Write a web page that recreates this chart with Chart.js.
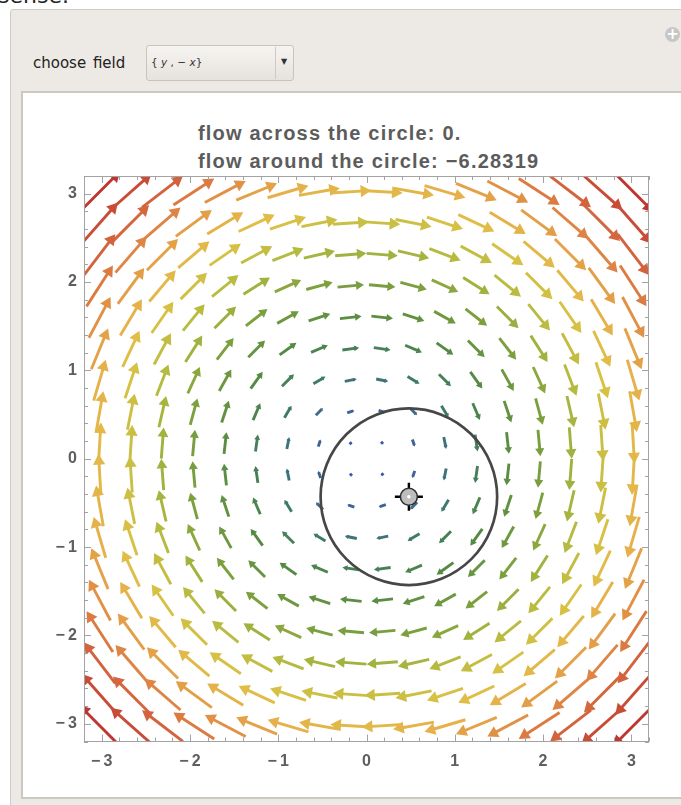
<!DOCTYPE html>
<html>
<head>
<meta charset="utf-8">
<script src="https://cdn.jsdelivr.net/npm/chart.js@4"></script>
<style>
  body { margin: 0; width: 681px; height: 805px; overflow: hidden; background: #fff; position: relative; font-family: 'DejaVu Sans', sans-serif; }
  #above { position: absolute; left: -2px; top: -17px; font-size: 22px; color: #222; }
  #panel { position: absolute; left: 10px; top: 9px; width: 720px; height: 830px; background: #edeae6; border: 1px solid #cfcbc6; border-radius: 3px; }
  #plus { position: absolute; left: 665px; top: 27px; width: 15px; height: 15px; border-radius: 50%; background: #c6c6c6; color: #fff; font: bold 15px/15px 'DejaVu Sans', sans-serif; text-align: center; }
  #chooseLabel { position: absolute; left: 33px; top: 54px; font-size: 15px; color: #222; word-spacing: 2px; }
  #drop { position: absolute; left: 146px; top: 45px; width: 146px; height: 34px; border: 1px solid #c7c3bd; border-radius: 3px; background: linear-gradient(#f6f4f1, #e6e3de); }
  #drop .sep { position: absolute; left: 128px; top: 1px; bottom: 1px; border-left: 1px solid #cdc9c3; }
  #drop .arrow { position: absolute; left: 134px; top: 11px; font-size: 8px; color: #333; }
  #drop .val { position: absolute; left: 4px; top: 10px; font: 10.5px 'DejaVu Sans', sans-serif; color: #333; }
  #drop .val i { font-style: italic; }
  #pane { position: absolute; left: 21px; top: 91px; width: 720px; height: 704px; background: #fff; border: 2px solid #cbc7c1; }
  #title { position: absolute; left: 198px; top: 119px; font: bold 20px/28px 'Liberation Sans', Arial, sans-serif; letter-spacing: 1.2px; color: #5c5c5c; white-space: pre; }
  canvas { position: absolute; left: 0; top: 0; }
</style>
</head>
<body>
<div id="above">sense.</div>
<div id="panel"></div>
<div id="plus">+</div>
<div id="chooseLabel">choose field</div>
<div id="drop"><span class="val">{ <i>y</i> , &minus; <i>x</i>}</span><span class="sep"></span><span class="arrow">&#9660;</span></div>
<div id="pane"></div>
<div id="title"></div>
<canvas id="graph" width="681" height="805"></canvas>
<script>
// arrow sample points (cell centres of an 18 x 18 grid on [-3.2, 3.2])
const gridX = [-3.022, -2.667, -2.311, -1.956, -1.6, -1.244, -0.889, -0.533, -0.178,
               0.178, 0.533, 0.889, 1.244, 1.6, 1.956, 2.311, 2.667, 3.022];
const gridY = [-3.022, -2.667, -2.311, -1.956, -1.6, -1.244, -0.889, -0.533, -0.178,
               0.178, 0.533, 0.889, 1.244, 1.6, 1.956, 2.311, 2.667, 3.022];
const xTicks = [-3, -2, -1, 0, 1, 2, 3];
const yTicks = [-3, -2, -1, 0, 1, 2, 3];
const plotRange = [-3.2, 3.2];

// chosen field {y, -x}
const field = (x, y) => [y, -x];

// circle and its locator
const circleCenter = [0.48, -0.43];
const circleRadius = 1;

const flowAcross = '0.';
const flowAround = '\u22126.28319';

// colour by magnitude, blue -> green -> yellow -> orange -> red
const colorT = [0, 0.12, 0.2, 0.3, 0.45, 0.55, 0.65, 0.72, 0.8, 0.9, 1];
const colorHex = ['#3b58a8', '#3f6a8c', '#3e7a6a', '#4f8744', '#80a23e', '#b3bb40',
                  '#dcc245', '#e6b04a', '#e08b45', '#d05b3b', '#bf3530'];

const style = {
  frame: '#a3a3a3',
  tickText: '#5e5e5e',
  circle: '#474747',
  font: "'Liberation Sans', Arial, sans-serif"
};

document.getElementById('title').textContent =
  'flow across the circle: ' + flowAcross + '\nflow around the circle: ' + flowAround;

const hexRgb = h => [1, 3, 5].map(i => parseInt(h.substr(i, 2), 16));
const colorAt = t => {
  let i = 0;
  while (i < colorT.length - 2 && t > colorT[i + 1]) i++;
  const f = Math.min(1, Math.max(0, (t - colorT[i]) / (colorT[i + 1] - colorT[i])));
  const a = hexRgb(colorHex[i]), b = hexRgb(colorHex[i + 1]);
  return 'rgb(' + a.map((v, k) => Math.round(v + (b[k] - v) * f)).join(',') + ')';
};

// build arrows
const arrowScale = 0.153;   // data units of length per unit of magnitude
const shaftData = [], shaftColors = [];
const headData = [], headColors = [], headRot = [], headSize = [];
let mags = [];
gridX.forEach(x => gridY.forEach(y => {
  const v = field(x, y);
  mags.push(Math.hypot(v[0], v[1]));
}));
const mMin = Math.min(...mags), mMax = Math.max(...mags);

gridX.forEach(x => gridY.forEach(y => {
  const [u, w] = field(x, y);
  const m = Math.hypot(u, w);
  const len = arrowScale * m;
  const dx = u / m, dy = w / m;
  const col = colorAt((m - mMin) / (mMax - mMin));
  const h = Math.min(0.3 * len, 0.12);        // head length
  const r = h / 1.5;                          // triangle circumradius
  const tip = [x + dx * len / 2, y + dy * len / 2];
  const tail = [x - dx * len / 2, y - dy * len / 2];
  shaftData.push({x: tail[0], y: tail[1]}, {x: tip[0] - dx * 0.6 * h, y: tip[1] - dy * 0.6 * h}, {x: x, y: null});
  shaftColors.push(col);
  headData.push({x: tip[0] - dx * r, y: tip[1] - dy * r});
  headColors.push(col);
  headRot.push(Math.atan2(u, w) * 180 / Math.PI);
  headSize.push(r);
}));

const pxLen = (chart, d) => chart.scales.x.getPixelForValue(d) - chart.scales.x.getPixelForValue(0);

const tickLabel = v => v < 0 ? '\u2212\u2009' + Math.abs(v) : String(v);

// frame with inward major/minor ticks on all four sides
const framePlugin = {
  id: 'frame',
  afterDatasetsDraw(chart) {
    const {ctx, chartArea: a, scales: {x, y}} = chart;
    ctx.save();
    ctx.strokeStyle = style.frame;
    ctx.lineWidth = 1;
    ctx.strokeRect(Math.round(a.left) + 0.5, Math.round(a.top) + 0.5,
                   Math.round(a.right - a.left) - 1, Math.round(a.bottom - a.top) - 1);
    ctx.beginPath();
    for (let k = -16; k <= 16; k++) {
      const v = k / 5;
      const len = k % 5 === 0 ? 7 : 4;
      const px = Math.round(x.getPixelForValue(v)) + 0.5;
      const py = Math.round(y.getPixelForValue(v)) + 0.5;
      ctx.moveTo(px, a.bottom); ctx.lineTo(px, a.bottom - len);
      ctx.moveTo(px, a.top); ctx.lineTo(px, a.top + len);
      ctx.moveTo(a.left, py); ctx.lineTo(a.left + len, py);
      ctx.moveTo(a.right, py); ctx.lineTo(a.right - len, py);
    }
    ctx.stroke();
    ctx.restore();
  }
};

const data = {
  datasets: [{
    label: 'shafts',
    data: shaftData,
    showLine: true,
    spanGaps: false,
    borderWidth: 2.9,
    pointRadius: 0,
    pointHoverRadius: 0,
    clip: 0,
    order: 5,
    segment: {
      borderColor: ctx => shaftColors[Math.floor(ctx.p0DataIndex / 3)]
    }
  }, {
    label: 'heads',
    data: headData,
    pointStyle: 'triangle',
    rotation: headRot,
    radius: ctx => pxLen(ctx.chart, headSize[ctx.dataIndex]),
    backgroundColor: headColors,
    borderWidth: 0,
    clip: 0,
    order: 4
  }, {
    label: 'circle',
    data: [{x: circleCenter[0], y: circleCenter[1]}],
    pointStyle: 'circle',
    radius: ctx => pxLen(ctx.chart, circleRadius),
    backgroundColor: 'rgba(0,0,0,0)',
    borderColor: style.circle,
    borderWidth: 2.7,
    order: 3
  }, {
    label: 'cross',
    data: [{x: circleCenter[0], y: circleCenter[1]}],
    pointStyle: 'cross',
    radius: 14,
    borderColor: '#000',
    borderWidth: 2.4,
    order: 2
  }, {
    label: 'locator',
    data: [{x: circleCenter[0], y: circleCenter[1]}],
    pointStyle: 'circle',
    radius: 8.5,
    backgroundColor: '#bdbdbd',
    borderColor: '#2e2e2e',
    borderWidth: 1.6,
    order: 1
  }, {
    label: 'dot',
    data: [{x: circleCenter[0], y: circleCenter[1]}],
    pointStyle: 'circle',
    radius: 1.8,
    backgroundColor: '#fff',
    borderWidth: 0,
    order: 0
  }]
};

const config = {
  type: 'scatter',
  data,
  options: {
    responsive: false,
    devicePixelRatio: 1,
    animation: false,
    events: [],
    layout: { padding: { left: 34, right: 32, top: 176, bottom: 33.5 } },
    plugins: { legend: { display: false }, tooltip: { enabled: false } },
    scales: {
      x: {
        type: 'linear',
        min: plotRange[0], max: plotRange[1],
        grid: { display: false, drawTicks: false },
        border: { display: false },
        afterBuildTicks: s => { s.ticks = xTicks.map(v => ({value: v})); },
        afterFit: s => { s.height = 30; },
        ticks: {
          padding: 10,
          maxRotation: 0,
          autoSkip: false,
          color: style.tickText,
          font: { family: style.font, size: 16, weight: 'bold' },
          callback: v => tickLabel(v)
        }
      },
      y: {
        type: 'linear',
        min: plotRange[0], max: plotRange[1],
        grid: { display: false, drawTicks: false },
        border: { display: false },
        afterBuildTicks: s => { s.ticks = yTicks.map(v => ({value: v})); },
        afterFit: s => { s.width = 50; },
        ticks: {
          padding: 7,
          autoSkip: false,
          color: style.tickText,
          font: { family: style.font, size: 16, weight: 'bold' },
          callback: v => tickLabel(v)
        }
      }
    }
  },
  plugins: [framePlugin]
};

const graph = new Chart(document.getElementById('graph'), config);
</script>
</body>
</html>
